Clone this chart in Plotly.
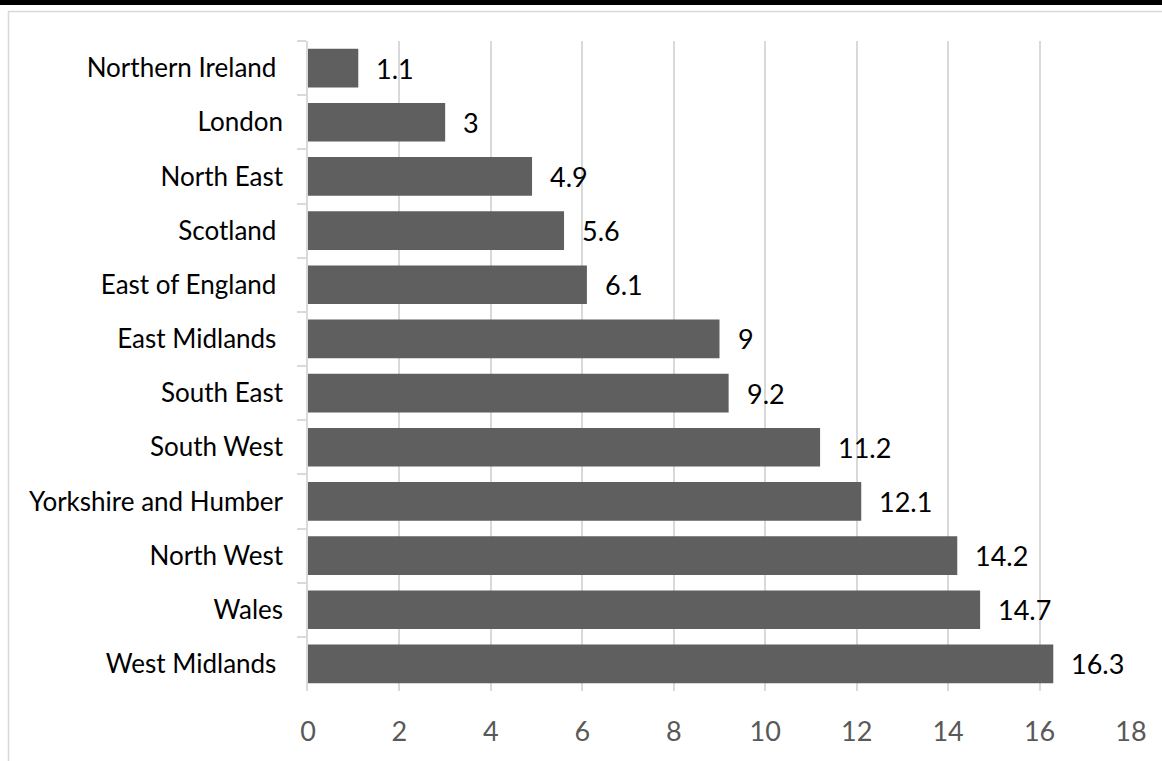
import plotly.graph_objects as go

# Regions listed top to bottom as drawn
regions = [
    "Northern Ireland\u00a0",
    "London",
    "North East",
    "Scotland\u00a0",
    "East of England\u00a0",
    "East Midlands\u00a0",
    "South East",
    "South West",
    "Yorkshire and Humber",
    "North West",
    "Wales",
    "West Midlands\u00a0",
]
values = [1.1, 3, 4.9, 5.6, 6.1, 9, 9.2, 11.2, 12.1, 14.2, 14.7, 16.3]
x_ticks = [0, 2, 4, 6, 8, 10, 12, 14, 16, 18]

W, H = 1162, 761
ML, MR, MT, MB = 308, 31, 41, 70
FONT = "Lato, Carlito, Calibri, sans-serif"

fig = go.Figure(
    go.Bar(
        x=values,
        y=regions,
        orientation="h",
        marker=dict(color="#5f5f5f", line=dict(width=0)),
        hoverinfo="x+y",
    )
)

# value labels to the right of each bar
for v, r in zip(values, regions):
    fig.add_annotation(
        x=v, y=r, text=f"{v:g}", showarrow=False,
        xanchor="left", yanchor="middle", xshift=16,
        font=dict(family=FONT, size=27, color="#000000"),
    )

pw = W - ML - MR
ph = H - MT - MB


def px_x(p):
    return (p - ML) / pw


def px_y(p):
    return (H - MB - p) / ph


# dark band along the top and light frame round the chart
fig.add_shape(type="rect", xref="paper", yref="paper",
              x0=px_x(-5), x1=px_x(W + 5), y0=px_y(5), y1=px_y(-5),
              fillcolor="#000000", line=dict(width=0), layer="above")
fig.add_shape(type="rect", xref="paper", yref="paper",
              x0=px_x(8.5), x1=px_x(W + 10), y0=px_y(H + 10), y1=px_y(11.5),
              fillcolor="rgba(0,0,0,0)", line=dict(color="#d9d9d9", width=1.5),
              layer="below")

fig.update_layout(
    width=W, height=H,
    margin=dict(l=ML, r=MR, t=MT, b=MB),
    paper_bgcolor="#ffffff", plot_bgcolor="#ffffff",
    bargap=0.2857,
    showlegend=False,
    font=dict(family=FONT),
    xaxis=dict(
        range=[0, 18], tickvals=x_ticks,
        showgrid=True, gridcolor="#d9d9d9", gridwidth=1.5,
        zeroline=False, showline=False, ticks="",
        tickfont=dict(family=FONT, size=27, color="#595959"),
        ticklabelstandoff=22,
    ),
    yaxis=dict(
        autorange="reversed",
        showgrid=False, zeroline=False,
        showline=True, linecolor="#d9d9d9", linewidth=1.5,
        ticks="outside", tickson="boundaries", ticklen=9,
        tickcolor="#d9d9d9", tickwidth=1.5,
        tickfont=dict(family=FONT, size=26, color="#000000"),
        ticklabelstandoff=18,
    ),
)

fig.write_html("out.html")
